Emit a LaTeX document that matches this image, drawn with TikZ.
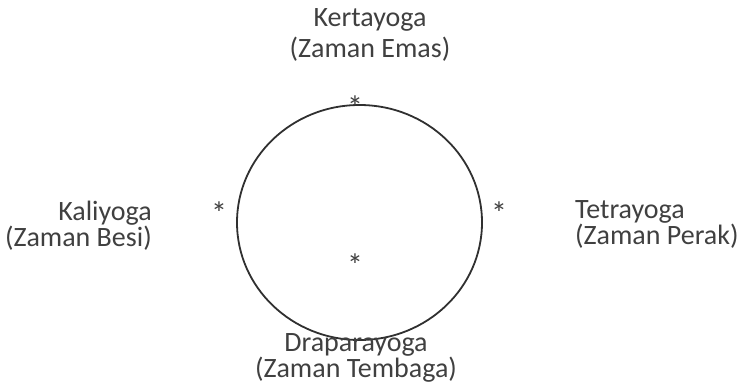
\documentclass[tikz,border=0pt]{standalone}
\usepackage{fontspec}
\setmainfont{Carlito}
\definecolor{txtgray}{HTML}{404040}
\definecolor{ringgray}{HTML}{303030}
\tikzset{
  yogalabel/.style={text=txtgray,font=\fontsize{28}{26}\selectfont,inner sep=0pt},
  yogastar/.style={text=txtgray,font=\fontsize{32}{32}\selectfont,inner sep=0pt}
}
\begin{document}
\begin{tikzpicture}[x=1pt,y=1pt]
            \useasboundingbox(0,0)rectangle(746,384);
            \coordinate(O)at(359.5,161.5);
            \draw[ringgray,line width=1.8pt](O)ellipse[x radius=122.5,y radius=117.5];
            \node[yogastar](sK)at(355,277){*};
            \node[yogastar](sT)at(499,171){*};
            \node[yogastar](sD)at(355,119){*};
            \node[yogastar](sL)at(219,171){*};
            \node[yogalabel,align=center,anchor=north,font=\fontsize{28}{31}\selectfont](K)at(370,376){Kertayoga\\(Zaman Emas)};
            \node[yogalabel,align=left,anchor=north west](T)at(575,184){Tetrayoga\\(Zaman Perak)};
            \node[yogalabel,align=center,anchor=north](D)at(356,51){Draparayoga\\(Zaman Tembaga)};
            \node[yogalabel,align=right,anchor=north east](L)at(152,183){Kaliyoga\\(Zaman Besi)};
        \end{tikzpicture}
\end{document}
